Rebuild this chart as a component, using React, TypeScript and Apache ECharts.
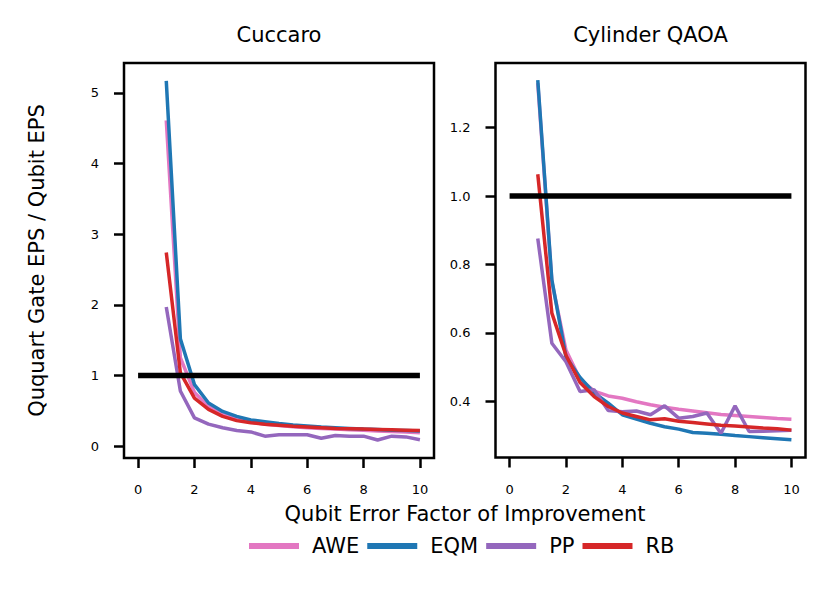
import React, { useEffect, useRef } from "react";
import * as echarts from "echarts";

const xs = [1, 1.5, 2, 2.5, 3, 3.5, 4, 4.5, 5, 5.5, 6, 6.5, 7, 7.5, 8, 8.5, 9, 9.5, 10];

const seriesNames = ["AWE", "EQM", "PP", "RB"];
const seriesColors = ["#e377c2", "#1f77b4", "#9467bd", "#d62728"];

// Cuccaro
const cuccaroAWE = [4.61, 1.25, 0.76, 0.56, 0.45, 0.38, 0.34, 0.31, 0.29, 0.275, 0.26, 0.25, 0.24, 0.23, 0.225, 0.215, 0.205, 0.2, 0.19];
const cuccaroEQM = [5.17, 1.52, 0.87, 0.61, 0.49, 0.42, 0.37, 0.345, 0.32, 0.3, 0.285, 0.27, 0.26, 0.25, 0.24, 0.235, 0.225, 0.22, 0.215];
const cuccaroPP = [1.97, 0.78, 0.4, 0.31, 0.26, 0.22, 0.2, 0.14, 0.16, 0.16, 0.16, 0.11, 0.15, 0.14, 0.14, 0.085, 0.14, 0.13, 0.09];
const cuccaroRB = [2.74, 1.04, 0.68, 0.52, 0.42, 0.36, 0.33, 0.31, 0.295, 0.28, 0.27, 0.26, 0.25, 0.245, 0.24, 0.235, 0.23, 0.225, 0.22];

// Cylinder QAOA
const qaoaAWE = [1.33, 0.75, 0.55, 0.465, 0.43, 0.416, 0.409, 0.399, 0.39, 0.383, 0.377, 0.372, 0.367, 0.362, 0.359, 0.356, 0.353, 0.35, 0.348];
const qaoaEQM = [1.339, 0.755, 0.53, 0.47, 0.425, 0.395, 0.361, 0.348, 0.336, 0.326, 0.319, 0.309, 0.307, 0.304, 0.3, 0.297, 0.294, 0.291, 0.288];
const qaoaPP = [0.876, 0.57, 0.516, 0.429, 0.434, 0.373, 0.37, 0.372, 0.361, 0.387, 0.351, 0.356, 0.366, 0.307, 0.387, 0.312, 0.313, 0.314, 0.316];
const qaoaRB = [1.064, 0.658, 0.535, 0.455, 0.414, 0.385, 0.366, 0.356, 0.346, 0.349, 0.342, 0.338, 0.334, 0.33, 0.328, 0.325, 0.322, 0.32, 0.316];

const refLineX = [0, 10];
const refLineY = [1, 1];

const xTicks = [0, 2, 4, 6, 8, 10];
const cuccaroYTicks = [0, 1, 2, 3, 4, 5];
const qaoaYTicks = [0.4, 0.6, 0.8, 1.0, 1.2];

const titles = ["Cuccaro", "Cylinder QAOA"];
const xLabel = "Qubit Error Factor of Improvement";
const yLabel = "Ququart Gate EPS / Qubit EPS";

const FONT = "DejaVu Sans";

export default function App() {
  const ref = useRef<HTMLDivElement>(null);

  useEffect(() => {
    document.body.style.margin = "0";
    if (!ref.current) return;
    const chart = echarts.init(ref.current, null, { renderer: "svg" });

    const pair = (ys: number[]) => xs.map((x, i) => [x, ys[i]]);
    const groups = [
      [cuccaroAWE, cuccaroEQM, cuccaroPP, cuccaroRB],
      [qaoaAWE, qaoaEQM, qaoaPP, qaoaRB],
    ];

    const series: any[] = [];
    groups.forEach((g, gi) => {
      g.forEach((ys, si) => {
        series.push({
          name: seriesNames[si],
          type: "line",
          xAxisIndex: gi,
          yAxisIndex: gi,
          data: pair(ys),
          symbol: "none",
          showSymbol: false,
          color: seriesColors[si],
          itemStyle: { color: seriesColors[si] },
          lineStyle: { color: seriesColors[si], width: 3.5 },
          emphasis: { disabled: true },
        });
      });
      series.push({
        name: "ref",
        type: "line",
        xAxisIndex: gi,
        yAxisIndex: gi,
        data: refLineX.map((x, i) => [x, refLineY[i]]),
        symbol: "none",
        showSymbol: false,
        lineStyle: { color: "#000", width: 5.5 },
        itemStyle: { color: "#000" },
        emphasis: { disabled: true },
      });
    });

    const xAxisBase = (gi: number) => ({
      gridIndex: gi,
      type: "value",
      min: -0.5,
      max: 10.5,
      splitLine: { show: false },
      axisLine: { show: false, onZero: false },
      axisTick: {
        show: true,
        customValues: xTicks,
        length: 10,
        lineStyle: { color: "#000", width: 2.5 },
      },
      axisLabel: {
        customValues: xTicks,
        margin: 25,
        fontSize: 13,
        color: "#000",
        fontFamily: FONT,
      },
    });

    const yAxisBase = (gi: number, min: number, max: number, ticks: number[], fmt: (v: number) => string) => ({
      gridIndex: gi,
      type: "value",
      min,
      max,
      splitLine: { show: false },
      axisLine: { show: false, onZero: false },
      axisTick: {
        show: true,
        customValues: ticks,
        length: 10,
        lineStyle: { color: "#000", width: 2.5 },
      },
      axisLabel: {
        customValues: ticks,
        margin: 25,
        fontSize: 13,
        color: "#000",
        fontFamily: FONT,
        formatter: fmt,
      },
    });

    const option: any = {
      animation: false,
      textStyle: { fontFamily: FONT },
      grid: [
        { left: 124, top: 63, width: 310, height: 395, show: true, borderColor: "#000", borderWidth: 2.5, backgroundColor: "transparent" },
        { left: 495.5, top: 63, width: 310, height: 394.5, show: true, borderColor: "#000", borderWidth: 2.5, backgroundColor: "transparent" },
      ],
      xAxis: [xAxisBase(0), xAxisBase(1)],
      yAxis: [
        yAxisBase(0, -0.169, 5.424, cuccaroYTicks, (v: number) => String(v)),
        yAxisBase(1, 0.236, 1.389, qaoaYTicks, (v: number) => v.toFixed(1)),
      ],
      legend: {
        data: seriesNames,
        left: 249,
        top: 535.5,
        padding: 0,
        itemWidth: 50,
        itemHeight: 6,
        itemGap: 8,
        icon: "rect",
        selectedMode: false,
        textStyle: { fontSize: 21, color: "#000", fontFamily: FONT, padding: [0, 0, 0, 8] },
      },
      graphic: [
        { type: "text", x: 279, y: 35, style: { text: titles[0], fontSize: 21, fontFamily: FONT, fill: "#000", align: "center", verticalAlign: "middle" } },
        { type: "text", x: 650.5, y: 35, style: { text: titles[1], fontSize: 21, fontFamily: FONT, fill: "#000", align: "center", verticalAlign: "middle" } },
        { type: "text", x: 465, y: 514, style: { text: xLabel, fontSize: 21, fontFamily: FONT, fill: "#000", align: "center", verticalAlign: "middle" } },
        { type: "text", x: 37, y: 260.5, rotation: Math.PI / 2, style: { text: yLabel, fontSize: 21, fontFamily: FONT, fill: "#000", align: "center", verticalAlign: "middle" } },
      ],
      series,
    };

    chart.setOption(option);
    return () => chart.dispose();
  }, []);

  return <div ref={ref} style={{ width: 831, height: 592 }} />;
}
